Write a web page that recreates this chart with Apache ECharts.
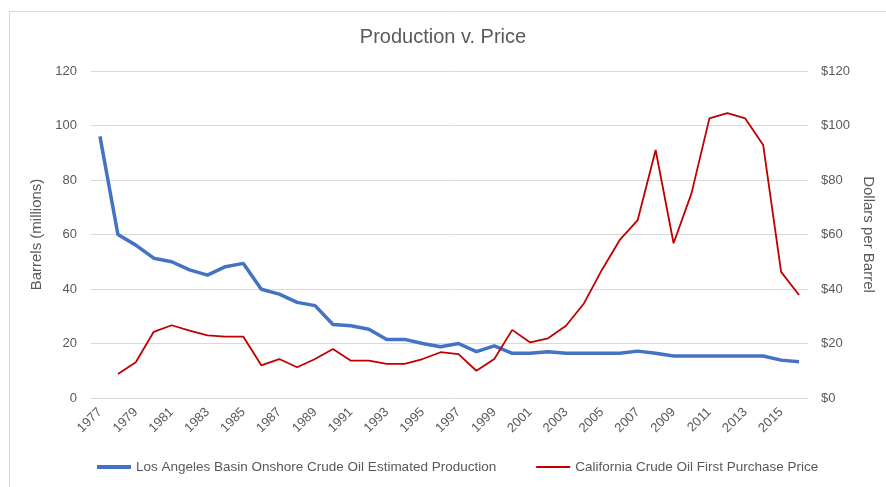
<!DOCTYPE html>
<html>
<head>
<meta charset="utf-8">
<script src="https://cdn.jsdelivr.net/npm/echarts@6/dist/echarts.min.js"></script>
<style>
  html, body { margin: 0; padding: 0; background: #fff; }
  #chart { width: 886px; height: 487px; }
</style>
</head>
<body>
<div id="chart"></div>
<script>
var years = [];
for (var y = 1977; y <= 2016; y++) years.push(String(y));

// Barrels (millions)
var production = [
  96, 60, 56.1, 51.3, 50, 47, 45.1, 48.2, 49.4, 39.9,
  38.1, 35.1, 33.9, 27, 26.5, 25.2, 21.5, 21.5, 20, 18.8,
  20, 17, 19.1, 16.4, 16.4, 17, 16.4, 16.4, 16.4, 16.4,
  17.2, 16.4, 15.4, 15.4, 15.4, 15.4, 15.4, 15.4, 13.9, 13.3
];

// Dollars per barrel (no value for 1977)
var price = [
  null, 8.8, 13.1, 24.3, 26.7, 24.7, 23, 22.5, 22.5, 12,
  14.3, 11.3, 14.3, 18, 13.7, 13.7, 12.5, 12.5, 14.3, 16.8,
  16.1, 10, 14.3, 25, 20.4, 21.9, 26.5, 34.7, 47, 58,
  65.3, 91, 56.8, 75.1, 102.6, 104.5, 102.6, 92.8, 46.3, 37.8
];

var myChart = echarts.init(document.getElementById("chart"));

var textColor = "#595959";
var gridColor = "#D9D9D9";
var font = "Liberation Sans";

var option = {
  backgroundColor: "#fff",
  animation: false,
  // chart area frame (only top and left edges are visible)
  graphic: [
    {
      type: "rect",
      left: 7, top: 9,
      shape: { width: 900, height: 500 },
      style: { fill: "none", stroke: gridColor, lineWidth: 1 },
      silent: true
    }
  ],
  title: {
    text: "Production v. Price",
    left: "center",
    top: 22,
    textStyle: { color: textColor, fontSize: 20, fontWeight: "normal", fontFamily: font }
  },
  legend: {
    bottom: 8,
    left: 92,
    itemGap: 40,
    itemWidth: 34,
    itemHeight: 10,
    icon: "path://M0,4L34,4L34,6L0,6Z",
    textStyle: { color: textColor, fontSize: 13.5, fontFamily: font },
    data: [
      { name: "Los Angeles Basin Onshore Crude Oil Estimated Production", itemStyle: { color: "#4472C4" }, icon: "path://M0,3L34,3L34,7L0,7Z" },
      { name: "California Crude Oil First Purchase Price", itemStyle: { color: "#C00000" } }
    ]
  },
  grid: { left: 91, right: 78, top: 71, bottom: 89 },
  xAxis: {
    type: "category",
    data: years,
    boundaryGap: true,
    axisLine: { lineStyle: { color: gridColor } },
    axisTick: { interval: 1, length: 5, lineStyle: { color: gridColor } },
    axisLabel: { interval: 1, rotate: 45, color: textColor, fontSize: 13, margin: 12, fontFamily: font }
  },
  yAxis: [
    {
      type: "value",
      min: 0, max: 120, interval: 20,
      name: "Barrels (millions)",
      nameLocation: "middle",
      nameGap: 42,
      nameTextStyle: { color: textColor, fontSize: 15, fontFamily: font },
      axisLabel: { color: textColor, fontSize: 13, margin: 14, fontFamily: font },
      axisLine: { show: false },
      axisTick: { show: false },
      splitLine: { lineStyle: { color: gridColor, width: 1 } }
    },
    {
      type: "value",
      min: 0, max: 120, interval: 20,
      name: "Dollars per Barrel",
      nameLocation: "middle",
      nameGap: 47,
      nameRotate: -90,
      nameTextStyle: { color: textColor, fontSize: 15, fontFamily: font },
      axisLabel: { color: textColor, fontSize: 13, margin: 13, formatter: "${value}", fontFamily: font },
      axisLine: { show: false },
      axisTick: { show: false },
      splitLine: { show: false }
    }
  ],
  series: [
    {
      name: "Los Angeles Basin Onshore Crude Oil Estimated Production",
      type: "line",
      yAxisIndex: 0,
      data: production,
      symbol: "none",
      lineStyle: { color: "#4472C4", width: 3.5 },
      itemStyle: { color: "#4472C4" }
    },
    {
      name: "California Crude Oil First Purchase Price",
      type: "line",
      yAxisIndex: 1,
      data: price,
      symbol: "none",
      lineStyle: { color: "#C00000", width: 1.8 },
      itemStyle: { color: "#C00000" }
    }
  ]
};

myChart.setOption(option);
</script>
</body>
</html>
